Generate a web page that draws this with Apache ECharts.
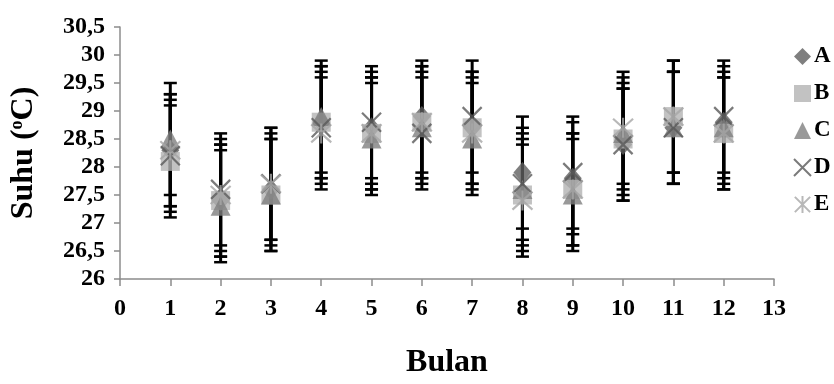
<!DOCTYPE html>
<html>
<head>
<meta charset="utf-8">
<style>
  html, body { margin: 0; padding: 0; background: #fff; }
  #chart { width: 834px; height: 384px; }
</style>
<script src="https://cdn.jsdelivr.net/npm/echarts@6/dist/echarts.min.js"></script>
</head>
<body>
<div id="chart"></div>
<script>
// bulan (x)
var months = [1, 2, 3, 4, 5, 6, 7, 8, 9, 10, 11, 12];

// rata-rata suhu tiap stasiun
var seriesA = [28.3, 27.4, 27.6, 28.8, 28.7, 28.9, 28.7, 27.9, 27.8, 28.4, 28.7, 28.8];
var seriesB = [28.1, 27.4, 27.5, 28.8, 28.6, 28.8, 28.7, 27.5, 27.6, 28.5, 28.9, 28.6];
var seriesC = [28.5, 27.3, 27.5, 28.9, 28.5, 28.7, 28.5, 27.6, 27.5, 28.6, 28.7, 28.7];
var seriesD = [28.2, 27.6, 27.7, 28.7, 28.8, 28.6, 28.9, 27.7, 27.9, 28.4, 28.7, 28.9];
var seriesE = [28.3, 27.5, 27.7, 28.6, 28.6, 28.8, 28.6, 27.4, 27.6, 28.7, 28.9, 28.6];

// panjang error bar (sama untuk semua titik)
var errSize = 1.0;

var names = ['A', 'B', 'C', 'D', 'E'];
var allValues = [seriesA, seriesB, seriesC, seriesD, seriesE];

var font = 'Liberation Serif, Times New Roman, serif';

var myChart = echarts.init(document.getElementById('chart'));

function toPoints(vals) {
	return months.map(function(m, i) { return [m, vals[i]]; });
}

// error bar: garis vertikal hitam + tutup atas/bawah
function renderErr(params, api) {
	var x = api.value(0), m = api.value(1);
	var top = api.coord([x, m + errSize]);
	var bot = api.coord([x, m - errSize]);
	var hw = 6.5;
	return {
		type: 'group',
		children: [
			{ type: 'line', shape: { x1: top[0], y1: top[1], x2: bot[0], y2: bot[1] }, style: { stroke: '#000', lineWidth: 3 } },
			{ type: 'line', shape: { x1: top[0] - hw, y1: top[1], x2: top[0] + hw, y2: top[1] }, style: { stroke: '#000', lineWidth: 2.5 } },
			{ type: 'line', shape: { x1: bot[0] - hw, y1: bot[1], x2: bot[0] + hw, y2: bot[1] }, style: { stroke: '#000', lineWidth: 2.5 } }
		]
	};
}

var markers = [
	{ symbol: 'diamond', size: [18, 21], style: { color: '#5f5f5f' } },
	{ symbol: 'rect', size: 19, style: { color: '#b3b3b3' } },
	{ symbol: 'triangle', size: [20, 19], style: { color: '#808080' } },
	{ symbol: 'path://M0,0L20,20M20,0L0,20', size: 19, style: { color: 'rgba(0,0,0,0)', borderColor: '#595959', borderWidth: 2.2 } },
	{ symbol: 'path://M1,1L19,19M19,1L1,19M10,0L10,20', size: 20, style: { color: 'rgba(0,0,0,0)', borderColor: '#a6a6a6', borderWidth: 2.2 } }
];

var series = [];
allValues.forEach(function(vals, i) {
	series.push({
		name: 'err' + names[i],
		type: 'custom',
		renderItem: renderErr,
		data: toPoints(vals),
		z: 1,
		silent: true
	});
});
allValues.forEach(function(vals, i) {
	series.push({
		name: names[i],
		type: 'scatter',
		symbol: markers[i].symbol,
		symbolSize: markers[i].size,
		itemStyle: markers[i].style,
		data: toPoints(vals),
		z: 3
	});
});

var option = {
	animation: false,
	backgroundColor: '#fff',
	grid: { left: 120, right: 60, top: 27, bottom: 98 },
	legend: {
		data: names,
		orient: 'vertical',
		left: 793,
		top: 45,
		padding: 0,
		itemWidth: 17,
		itemHeight: 17,
		itemGap: 14,
		textStyle: { fontFamily: font, fontWeight: 'bold', fontSize: 23, color: '#000', padding: [0, 0, 0, -2] }
	},
	xAxis: {
		type: 'value',
		min: 0,
		max: 13,
		interval: 1,
		name: 'Bulan',
		nameLocation: 'middle',
		nameGap: 68,
		nameTextStyle: { fontFamily: font, fontWeight: 'bold', fontSize: 32, color: '#000' },
		splitLine: { show: false },
		axisLine: { lineStyle: { color: '#8c8c8c', width: 1.5 } },
		axisTick: { length: 7, lineStyle: { color: '#8c8c8c', width: 1.5 } },
		axisLabel: { margin: 18, fontFamily: font, fontWeight: 'bold', fontSize: 24, color: '#000' }
	},
	yAxis: {
		type: 'value',
		min: 26,
		max: 30.5,
		interval: 0.5,
		name: 'Suhu ({s|o}C)',
		nameLocation: 'middle',
		nameRotate: 90,
		nameGap: 80,
		nameTextStyle: {
			fontFamily: font, fontWeight: 'bold', fontSize: 32, color: '#000',
			rich: { s: { fontFamily: font, fontWeight: 'bold', fontSize: 18, color: '#000', verticalAlign: 'top', lineHeight: 32 } }
		},
		splitLine: { show: false },
		axisLine: { show: true, lineStyle: { color: '#8c8c8c', width: 1.5 } },
		axisTick: { show: true, length: 6, lineStyle: { color: '#8c8c8c', width: 1.5 } },
		axisLabel: {
			margin: 15, fontFamily: font, fontWeight: 'bold', fontSize: 24, color: '#000',
			formatter: function(v) { return String(v).replace('.', ','); }
		}
	},
	series: series
};

myChart.setOption(option);
</script>
</body>
</html>
